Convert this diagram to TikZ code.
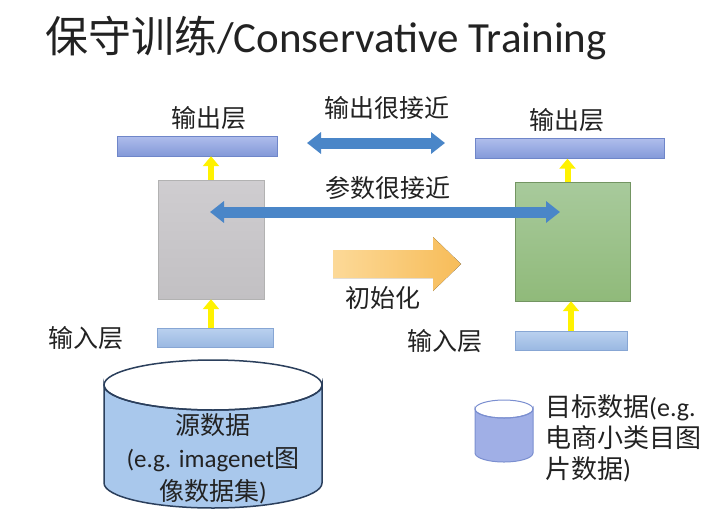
\documentclass[tikz,border=0pt]{standalone}
\usepackage{fontspec}
\setmainfont{Carlito}
\newfontfamily\cjk{Noto Sans CJK SC}
\usetikzlibrary{positioning,arrows.meta}
\definecolor{txt}{HTML}{222222}
\definecolor{bartop}{HTML}{AFBDEC}
\definecolor{barbot}{HTML}{8399D8}
\definecolor{barline}{HTML}{6F86C9}
\definecolor{intop}{HTML}{BAD1EF}
\definecolor{inbot}{HTML}{9AB8E2}
\definecolor{inline}{HTML}{87A6D4}
\definecolor{arrblue}{HTML}{4A86C8}
\definecolor{graytop}{HTML}{CFCDD0}
\definecolor{graybot}{HTML}{C2C0C3}
\definecolor{greentop}{HTML}{A8CA9C}
\definecolor{greenbot}{HTML}{90BA7A}
\definecolor{orleft}{HTML}{FCD998}
\definecolor{orright}{HTML}{F7BC58}
\definecolor{cylfill}{HTML}{A9C8EC}
\definecolor{cylline}{HTML}{2B3F5C}
\definecolor{smallfill}{HTML}{A0AFE6}
\definecolor{smallline}{HTML}{7B8FD0}

\begin{document}
\begin{tikzpicture}[x=1pt,y=-1pt,
    lbl/.style={font=\cjk\fontsize{25}{30}\selectfont, text=txt, inner sep=0pt},
    outbar/.style={draw=barline, top color=bartop, bottom color=barbot,
        minimum height=20pt, inner sep=0pt},
    inbar/.style={draw=inline, top color=intop, bottom color=inbot,
        minimum height=19pt, inner sep=0pt},
    netbox/.style={minimum height=119pt, inner sep=0pt},
    bluearrow/.style={arrblue, line width=11pt,
        {Triangle[length=14pt,width=21pt]}-{Triangle[length=14pt,width=21pt]}},
    yelarrow/.style={yellow, line width=6pt, -{Triangle[length=10pt,width=16pt]}}]
    \useasboundingbox[fill=white] (0,0) rectangle (727,514);

    % title
    \node[anchor=base west, inner sep=0pt, text=txt, font=\fontsize{43}{46}\selectfont]
        (title) at (45,52) {{\cjk 保守训练}/Conservative Training};

    % layers and networks
    \node[outbar, minimum width=160pt] (outL) at (197,146) {};
    \node[outbar, minimum width=189pt] (outR) at (569.5,148.5) {};
    \node[netbox, minimum width=106pt, draw=gray!60, top color=graytop, bottom color=graybot]
        (grayL) at (211,239.5) {};
    \node[netbox, minimum width=115pt, draw=greenbot!80!black, top color=greentop, bottom color=greenbot]
        (greenR) at (572.5,241.5) {};
    \node[inbar, minimum width=116pt] (inL) at (215,337.5) {};
    \node[inbar, minimum width=112pt] (inR) at (571,340.5) {};

    % labels
    \node[lbl] (outLtxt) at (209,118) {输出层};
    \node[lbl] (outRtxt) at (567,120) {输出层};
    \node[lbl] (outnear) at (387,108) {输出很接近};
    \node[lbl] (parnear) at (388,188) {参数很接近};
    \node[lbl] (init) at (383,298) {初始化};
    \node[lbl] (inLtxt) at (86,338) {输入层};
    \node[lbl] (inRtxt) at (445,341) {输入层};

    % yellow arrows
    \draw[yelarrow] (grayL.north) -- (grayL.north |- outL.south);
    \draw[yelarrow] (inL.north -| grayL.north) -- (grayL.south);
    \draw[yelarrow] ([xshift=-5pt]greenR.north) -- ([xshift=-5pt]greenR.north |- outR.south);
    \draw[yelarrow] (inR.north) -- (inR.north |- greenR.south);

    % blue double arrows
    \coordinate (outA) at (307,143);
    \coordinate (outB) at (445,143);
    \draw[bluearrow] (outA) -- (outB);
    \coordinate (parA) at (210,212);
    \coordinate (parB) at (560,212);
    \draw[bluearrow] (parA) -- (parB);

    % orange arrow
    \fill[left color=orleft, right color=orright]
        (333,250) -- (433,250) -- (433,237) -- (461,264) -- (433,291)
        -- (433,278) -- (333,278) -- cycle;

    % source data
    \filldraw[fill=cylfill, draw=cylline, line width=1.5pt]
        (104,385) -- (104,483) arc (180:0:109 and 25) -- (322,385) arc (0:180:109 and 25) -- cycle;
    \draw[cylline, line width=1.5pt] (213,385) ellipse (109 and 25);
    \node[lbl, align=center, font=\fontsize{25}{33}\selectfont] (srctxt) at (213,459)
        {{\cjk 源数据}\\(e.g. imagenet{\cjk 图}\\{\cjk 像数据集})};

    % target data
    \filldraw[fill=smallfill, draw=smallline, line width=1pt]
        (475,409) -- (475,453) arc (180:0:29 and 9) -- (533,409) arc (0:180:29 and 9) -- cycle;
    \draw[smallline, line width=1pt] (504,409) ellipse (29 and 9);
    \node[lbl, align=left, anchor=west, font=\fontsize{26}{31}\selectfont] (tgttxt) at (545,438)
        {{\cjk 目标数据}(e.g.\\{\cjk 电商小类目图}\\{\cjk 片数据})};
\end{tikzpicture}
\end{document}
